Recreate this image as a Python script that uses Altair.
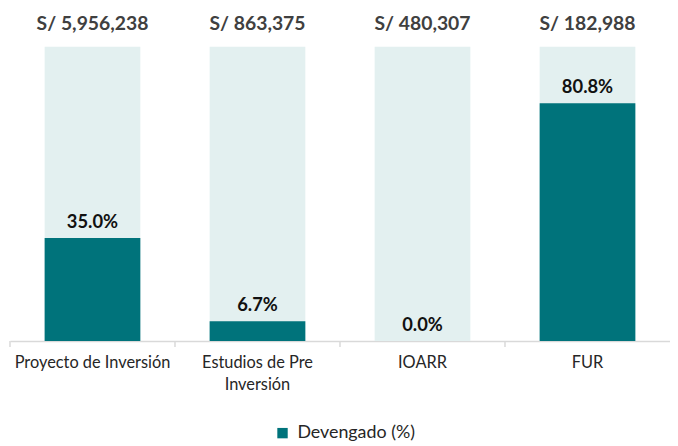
import altair as alt
import pandas as pd

categories = ["Proyecto de Inversión", "Estudios de Pre Inversión", "IOARR", "FUR"]
devengado_pct = [35.0, 6.7, 0.0, 80.8]
montos = ["S/ 5,956,238", "S/ 863,375", "S/ 480,307", "S/ 182,988"]
fondo_pct = [100, 100, 100, 100]
serie = ["Devengado (%)"] * 4

df = pd.DataFrame({
    "cat": categories,
    "pct": devengado_pct,
    "monto": montos,
    "fondo": fondo_pct,
    "serie": serie,
})
df["pct_label"] = df["pct"].map(lambda v: f"{v:.1f}%")

FONT = "Lato"
TEAL = "#00737B"
LIGHT = "#E3F0F0"
W = 666
H = 297
PAD_IN = 0.42
PAD_OUT = 0.21
STEP = W / (len(categories) - PAD_IN + 2 * PAD_OUT)

x_enc = alt.X(
    "cat:N",
    sort=categories,
    scale=alt.Scale(paddingInner=PAD_IN, paddingOuter=PAD_OUT),
    axis=alt.Axis(
        title=None,
        labelAngle=0,
        labelFont=FONT,
        labelFontSize=16.5,
        labelColor="#262626",
        labelPadding=14,
        labelLineHeight=22,
        labelLimit=250,
        labelExpr="datum.value == 'Estudios de Pre Inversión' ? ['Estudios de Pre', 'Inversión'] : datum.label",
        ticks=False,
        domainColor="#D9D9D9",
        domainWidth=1.5,
        grid=False,
    ),
)
y_scale = alt.Scale(domain=[0, 100])

base = alt.Chart(df)

bg = base.mark_bar(color=LIGHT).encode(
    x=x_enc,
    y=alt.Y("fondo:Q", scale=y_scale, axis=None),
)

bars = base.mark_bar().encode(
    x=alt.X("cat:N", sort=categories),
    y=alt.Y("pct:Q", scale=y_scale),
    color=alt.Color(
        "serie:N",
        scale=alt.Scale(range=[TEAL]),
        legend=alt.Legend(
            title=None,
            orient="none",
            legendX=266,
            legendY=381,
            symbolType="square",
            symbolSize=110,
            symbolStrokeWidth=0,
            labelFont=FONT,
            labelFontSize=18,
            labelColor="#262626",
            labelOffset=6,
        ),
    ),
)

ticks = base.mark_rule(color="#D9D9D9", strokeWidth=1.5, xOffset=-PAD_OUT * STEP).encode(
    x=alt.X("cat:N", sort=categories, bandPosition=0),
    y=alt.value(H),
    y2=alt.value(H + 6),
)

pct_text = base.mark_text(
    font=FONT, fontSize=18.5, fontWeight="bold", color="#111111",
    baseline="bottom", dy=-6,
).encode(
    x=alt.X("cat:N", sort=categories),
    y=alt.Y("pct:Q", scale=y_scale),
    text="pct_label:N",
)

top_text = base.mark_text(
    font=FONT, fontSize=19.5, fontWeight="bold", color="#404040",
    baseline="middle", dy=-23,
).encode(
    x=alt.X("cat:N", sort=categories),
    y=alt.Y("fondo:Q", scale=y_scale),
    text="monto:N",
)

chart = alt.layer(bg, bars, ticks, pct_text, top_text).properties(
    width=W,
    height=H,
    background="white",
    autosize=alt.AutoSizeParams(type="none"),
    padding={"left": 2, "top": 37, "right": 0, "bottom": 104},
).configure_view(stroke=None)

chart.save("out.html", embed_options={"renderer": "svg", "actions": False})
